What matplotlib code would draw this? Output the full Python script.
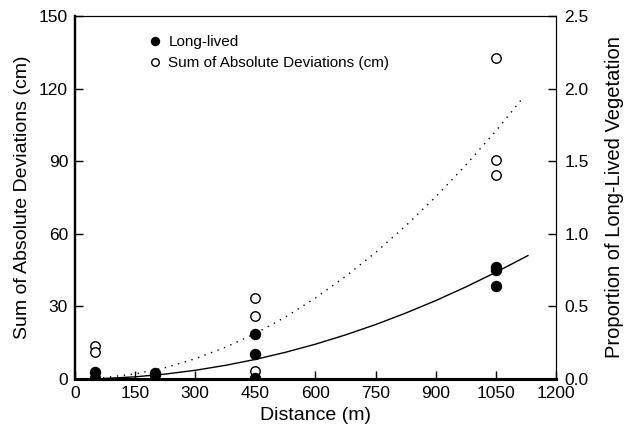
import numpy as np
import matplotlib
matplotlib.use("Agg")
from matplotlib import pyplot as plt

plt.rcParams['font.family'] = ['Liberation Sans', 'DejaVu Sans']

#------------------------------------------------------------
# Data
# Sum of absolute deviations (cm), left axis
sad_dist = [50, 50, 450, 450, 450, 1050, 1050, 1050]
sad_cm = [13.5, 11.2, 33.5, 26.1, 3.4, 132.8, 90.5, 84.2]

# Proportion of long-lived vegetation, right axis
ll_dist = [50, 50, 200, 200, 450, 450, 450, 1050, 1050, 1050]
ll_prop = [0.048, 0.008, 0.040, 0.025, 0.312, 0.172, 0.004, 0.768, 0.750, 0.640]

# fitted curves
fit_dist = [70, 150, 225, 300, 375, 450, 525, 600, 675, 750, 825, 900, 975, 1050, 1120]
sad_fit = [0.5, 2.1, 4.7, 8.4, 13.1, 18.8, 25.6, 33.5, 42.4, 52.3, 63.3, 75.3,
           88.4, 102.5, 116.7]
ll_fit_dist = [75, 150, 225, 300, 375, 450, 525, 600, 675, 750, 825, 900, 975, 1050, 1130]
ll_fit = [0.004, 0.015, 0.034, 0.060, 0.094, 0.135, 0.184, 0.240, 0.304, 0.375,
          0.454, 0.540, 0.634, 0.735, 0.850]

xticks = np.arange(0, 1201, 150)
yticks = np.arange(0, 151, 30)
y2ticks = np.arange(0, 2.51, 0.5)

#------------------------------------------------------------
fig = plt.figure(figsize=(6.24, 4.36), dpi=100)
ax = fig.add_axes([0.1202, 0.1307, 0.7708, 0.8326])
ax2 = ax.twinx()

ax.plot(fit_dist, sad_fit, color='k', lw=1.0, ls=(0, (1, 4)))
ax.plot(sad_dist, sad_cm, 'o', ms=6.8, mfc='white', mec='k', mew=1.0,
        label='Sum of Absolute Deviations (cm)')

ax2.plot(ll_fit_dist, ll_fit, color='k', lw=1.0)
ax2.plot(ll_dist, ll_prop, 'o', ms=7.2, mfc='k', mec='k',
         label='Long-lived')

ax.set_xlim(0, 1200)
ax.set_ylim(0, 150)
ax2.set_ylim(0, 2.5)
ax.set_xticks(xticks)
ax.set_yticks(yticks)
ax2.set_yticks(y2ticks)
ax2.set_yticklabels(['%.1f' % t for t in y2ticks])

ax.tick_params(direction='in', length=6, width=1.0, labelsize=12.5, pad=5)
ax2.tick_params(direction='in', length=6, width=1.0, labelsize=12.5, pad=6)

for a in (ax, ax2):
    a.spines['bottom'].set_linewidth(2.2)
    a.spines['left'].set_linewidth(1.6)
    a.spines['top'].set_linewidth(0.8)
    a.spines['right'].set_linewidth(0.8)

ax.set_xlabel('Distance (m)', fontsize=14, labelpad=4)
ax.set_ylabel('Sum of Absolute Deviations (cm)', fontsize=14, labelpad=6)
ax2.set_ylabel('Proportion of Long-Lived Vegetation', fontsize=14.5, labelpad=12)

h1, l1 = ax2.get_legend_handles_labels()
h2, l2 = ax.get_legend_handles_labels()
ax2.legend(h1 + h2, l1 + l2, loc='upper left', bbox_to_anchor=(0.118, 0.985),
           frameon=False, fontsize=11, markerscale=0.8, handletextpad=0.3,
           labelspacing=0.45, handlelength=1.2)

plt.savefig('out.png', dpi=100)
